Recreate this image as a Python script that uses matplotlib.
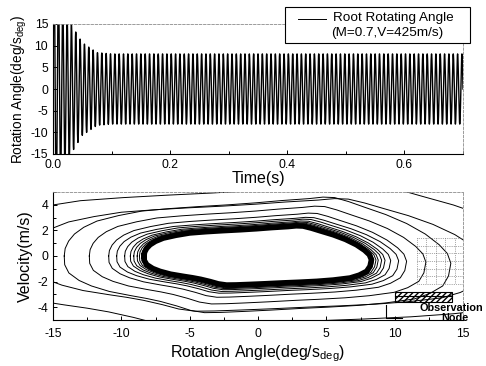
import numpy as np
import matplotlib
matplotlib.use('Agg')
import matplotlib.pyplot as plt
import matplotlib.transforms as mtransforms
from matplotlib.patches import Rectangle

plt.rcParams['font.family'] = ['Liberation Sans', 'DejaVu Sans']
plt.rcParams['mathtext.fontset'] = 'custom'
plt.rcParams['mathtext.rm'] = 'Liberation Sans'
plt.rcParams['axes.unicode_minus'] = False

# --- top panel: root rotating angle vs time
env_t = [0.0, 0.02, 0.035, 0.05, 0.075, 0.1, 0.7]       # s
env_amp = [30.0, 18.0, 14.0, 10.7, 8.4, 8.1, 8.1]       # deg
osc_freq = 135.0                                        # Hz, ~27 cycles per 0.2 s
time_ticks = [0.0, 0.2, 0.4, 0.6]
time_labels = ['0.0', '0.2', '0.4', '0.6']
angle_ticks = [-15, -10, -5, 0, 5, 10, 15]

# --- bottom panel: phase portrait
# limit cycle outline (rotation angle, velocity), read clockwise from the left cap
cycle_x = [-8.34, -8.3, -8.15, -7.9, -7.5, -6.93, -6.0, -5.0, -3.8, -2.56, -1.3, -0.1,
           1.0, 2.2, 2.8, 3.3, 3.9, 4.6, 5.5, 6.4, 7.2, 7.8, 8.15, 8.3,
           8.2, 7.95, 7.4, 6.73, 5.5, 4.3, 3.0, 1.85, 0.5, -0.6, -1.6, -2.3, -2.9, -3.5,
           -4.2, -4.8, -5.46, -6.4, -7.17, -7.7, -8.14, -8.32, -8.34]
cycle_v = [0.0, 0.3, 0.6, 0.88, 1.15, 1.4, 1.62, 1.8, 1.9, 1.98, 2.05, 2.13,
           2.22, 2.3, 2.36, 2.34, 2.18, 1.95, 1.66, 1.3, 0.88, 0.45, 0.1, -0.29,
           -0.8, -1.2, -1.5, -1.72, -1.88, -1.98, -2.05, -2.1, -2.17, -2.22, -2.26, -2.27, -2.18, -2.0,
           -1.82, -1.7, -1.59, -1.42, -1.2, -0.98, -0.68, -0.35, 0.0]
# scale of each transient orbit relative to the limit cycle (x, v)
orbit_sx = [1.01, 1.02, 1.04, 1.06, 1.09, 1.12, 1.17, 1.24, 1.31, 1.48, 1.70, 2.00, 2.60]
orbit_sv = [1.01, 1.03, 1.06, 1.09, 1.12, 1.16, 1.22, 1.28, 1.42, 1.65, 1.95, 1.90, 2.40]
phase_xticks = [-15, -10, -5, 0, 5, 10, 15]
phase_vticks = [-4, -2, 0, 2, 4]
# observation node marker
node_grid_x = [11.6, 12.3, 13.0, 13.7, 14.4, 15.0]
node_grid_v = [1.4, 0.8, 0.2, -0.4, -1.0, -1.6, -2.2]

W, H = 486, 366
fig = plt.figure(figsize=(W / 100, H / 100), dpi=100)

ax1 = fig.add_axes([53 / W, 1 - 154 / H, 410 / W, 130 / H])
t = np.linspace(0, 0.7, 6000)
amp = np.interp(t, env_t, env_amp)
ax1.plot(t, amp * np.sin(2 * np.pi * osc_freq * t), color='black', lw=1.0)
ax1.set_xlim(0, 0.7)
ax1.set_ylim(-15, 15)
ax1.set_xticks(time_ticks)
ax1.set_xticklabels(time_labels)
ax1.set_xticks([0.1, 0.3, 0.5, 0.7], minor=True)
ax1.set_yticks(angle_ticks)
ax1.set_xlabel('Time(s)', fontsize=11.5, labelpad=0)
ax1.set_ylabel('Rotation Angle(deg/s$_{\\mathregular{deg}}$)', fontsize=9.8, labelpad=1)

ax2 = fig.add_axes([53 / W, 1 - 320 / H, 410 / W, 128 / H])
base = ax2.transData
for sx, sv in zip(orbit_sx, orbit_sv):
    tr = mtransforms.Affine2D().scale(sx, sv) + base
    ax2.plot(cycle_x, cycle_v, color='black', lw=0.7, transform=tr)
ax2.plot(cycle_x, cycle_v, color='black', lw=4.0, solid_joinstyle='round')

for gx in node_grid_x:
    ax2.plot([gx, gx], [node_grid_v[0], node_grid_v[-1]], color='0.35', lw=0.5, ls=':')
for gv in node_grid_v:
    ax2.plot([node_grid_x[0], node_grid_x[-1]], [gv, gv], color='0.35', lw=0.5, ls=':')
ax2.add_patch(Rectangle((10.0, -3.56), 4.2, 0.77, fill=False, hatch='//////', lw=0.8))
ax2.plot([10.0, 14.2], [-3.1, -3.1], color='black', lw=0.8)
ax2.plot([9.4, 9.4, 10.5], [-3.83, -4.87, -4.87], color='black', lw=0.8)
ax2.text(11.8, -4.06, 'Observation', fontsize=7.8, fontweight='bold', va='center', clip_on=False)
ax2.text(13.4, -4.85, 'Node', fontsize=7.8, fontweight='bold', va='center', clip_on=False)

ax2.set_xlim(-15, 15)
ax2.set_ylim(-5, 5)
ax2.set_xticks(phase_xticks)
ax2.set_xticks(np.arange(-12.5, 15, 5), minor=True)
ax2.set_yticks(phase_vticks)
ax2.set_yticks([-5, -3, -1, 1, 3, 5], minor=True)
ax2.set_xlabel('Rotation Angle(deg/s$_{\\mathregular{deg}}$)', fontsize=11.5, labelpad=2)
ax2.set_ylabel('Velocity(m/s)', fontsize=11.5, labelpad=3)

for ax in (ax1, ax2):
    ax.tick_params(which='both', direction='in', labelsize=8.8, width=0.7)
    ax.tick_params(which='major', length=3)
    ax.tick_params(which='minor', length=2)
    for s in ('top', 'right'):
        ax.spines[s].set_color('0.55')
        ax.spines[s].set_linestyle((0, (3, 2)))
        ax.spines[s].set_linewidth(0.6)
    for s in ('left', 'bottom'):
        ax.spines[s].set_linewidth(0.8)
ax2.tick_params(axis='x', which='major', pad=6)

# legend box drawn in pixel positions of the figure
fig.patches.append(Rectangle((285 / W, 1 - 43 / H), 185 / W, 36 / H, transform=fig.transFigure,
                             facecolor='white', edgecolor='black', lw=0.8, zorder=5))
fig.lines.append(plt.Line2D([298 / W, 326 / W], [1 - 19 / H, 1 - 19 / H], transform=fig.transFigure,
                            color='black', lw=0.7, zorder=6))
fig.text(333 / W, 1 - 18 / H, 'Root Rotating Angle', fontsize=9.7, va='center', zorder=6)
fig.text(331 / W, 1 - 33 / H, '(M=0.7,V=425m/s)', fontsize=9.7, va='center', zorder=6)

fig.savefig('out.png', dpi=100)
